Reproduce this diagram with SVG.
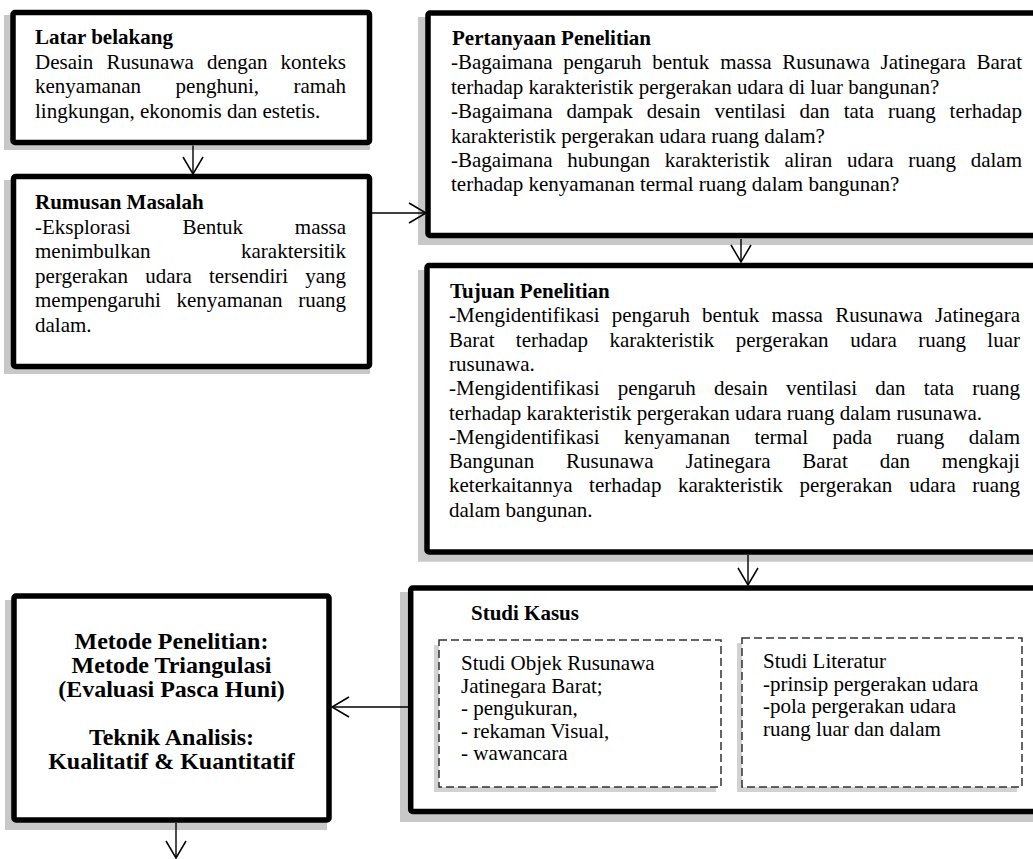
<svg xmlns="http://www.w3.org/2000/svg" width="1033" height="859" viewBox="0 0 1033 859">
<style>
.t{font-family:"Liberation Serif","Times New Roman",serif;font-size:21px;fill:#000}
.b{font-weight:bold}
.m{font-family:"Liberation Serif","Times New Roman",serif;font-size:24px;font-weight:bold;fill:#000;text-anchor:middle}
.box{fill:#fff;stroke:#000;stroke-width:5.5}
.sh{fill:#c8c8c8}
.dash{fill:#fff;stroke:#333;stroke-width:1.5;stroke-dasharray:8 4}
.shd{fill:#d2d2d2}
.con{stroke:#000;stroke-width:1.4;fill:none;marker-end:url(#arr)}
</style>
<defs>
<marker id="arr" viewBox="-1 -12 20 24" refX="17" refY="0" markerWidth="20" markerHeight="24" markerUnits="userSpaceOnUse" orient="auto">
<path d="M0,-10 L17,0 L0,10" fill="none" stroke="#000" stroke-width="1.5"/>
</marker>
</defs>

<g id="latar">
<rect class="sh" x="4" y="15" width="366" height="135"/>
<rect class="box" x="13" y="12.5" width="356.5" height="130" rx="2"/>
<text class="t b" x="35" y="44">Latar belakang</text>
<text class="t" y="68.5"><tspan x="35">Desain</tspan><tspan x="106.4">Rusunawa</tspan><tspan x="206.9">dengan</tspan><tspan x="280.6">konteks</tspan></text>
<text class="t" y="93"><tspan x="35">kenyamanan</tspan><tspan x="175.6">penghuni,</tspan><tspan x="293.5">ramah</tspan></text>
<text class="t" x="35" y="117.5">lingkungan, ekonomis dan estetis.</text>
</g>

<g id="rumusan">
<rect class="sh" x="4" y="180" width="366" height="194"/>
<rect class="box" x="13.5" y="176.5" width="356" height="190" rx="2"/>
<text class="t b" x="35" y="209">Rumusan Masalah</text>
<text class="t" y="233.5"><tspan x="35">-Eksplorasi</tspan><tspan x="182.4">Bentuk</tspan><tspan x="294.8">massa</tspan></text>
<text class="t" y="258"><tspan x="35">menimbulkan</tspan><tspan x="241">karaktersitik</tspan></text>
<text class="t" y="282.5"><tspan x="35">pergerakan</tspan><tspan x="145.3">udara</tspan><tspan x="208.9">tersendiri</tspan><tspan x="305.2">yang</tspan></text>
<text class="t" y="307"><tspan x="35">mempengaruhi</tspan><tspan x="176.5">kenyamanan</tspan><tspan x="298.2">ruang</tspan></text>
<text class="t" x="35" y="331.5">dalam.</text>
</g>

<g id="pertanyaan">
<rect class="sh" x="418" y="17" width="640" height="228"/>
<rect class="box" x="428" y="13" width="620" height="222.5" rx="2"/>
<text class="t b" x="452" y="45">Pertanyaan Penelitian</text>
<text class="t" y="69.4"><tspan x="451">-Bagaimana</tspan><tspan x="563.3">pengaruh</tspan><tspan x="652.2">bentuk</tspan><tspan x="720.2">massa</tspan><tspan x="782.3">Rusunawa</tspan><tspan x="880.6">Jatinegara</tspan><tspan x="976.5">Barat</tspan></text>
<text class="t" x="451" y="93.8">terhadap karakteristik pergerakan udara di luar bangunan?</text>
<text class="t" y="118.2"><tspan x="451">-Bagaimana</tspan><tspan x="566.4">dampak</tspan><tspan x="646.8">desain</tspan><tspan x="714.4">ventilasi</tspan><tspan x="799.5">dan</tspan><tspan x="843.7">tata</tspan><tspan x="887.9">ruang</tspan><tspan x="949.6">terhadap</tspan></text>
<text class="t" x="451" y="142.6">karakteristik pergerakan udara ruang dalam?</text>
<text class="t" y="167"><tspan x="451">-Bagaimana</tspan><tspan x="567.2">hubungan</tspan><tspan x="664.7">karakteristik</tspan><tspan x="784.4">aliran</tspan><tspan x="846.9">udara</tspan><tspan x="908.2">ruang</tspan><tspan x="970.7">dalam</tspan></text>
<text class="t" x="451" y="191.4">terhadap kenyamanan termal ruang dalam bangunan?</text>
</g>

<g id="tujuan">
<rect class="sh" x="418" y="270" width="640" height="291.7"/>
<rect class="box" x="427" y="265.5" width="620" height="286.5" rx="2"/>
<text class="t b" x="450" y="298">Tujuan Penelitian</text>
<text class="t" y="322.3"><tspan x="449">-Mengidentifikasi</tspan><tspan x="611.8">pengaruh</tspan><tspan x="702.1">bentuk</tspan><tspan x="771.6">massa</tspan><tspan x="835.2">Rusunawa</tspan><tspan x="934.9">Jatinegara</tspan></text>
<text class="t" y="346.6"><tspan x="449">Barat</tspan><tspan x="515.8">terhadap</tspan><tspan x="609.4">karakteristik</tspan><tspan x="735.7">pergerakan</tspan><tspan x="850.3">udara</tspan><tspan x="918.2">ruang</tspan><tspan x="987.3">luar</tspan></text>
<text class="t" x="449" y="370.9">rusunawa.</text>
<text class="t" y="395.2"><tspan x="449">-Mengidentifikasi</tspan><tspan x="617.7">pengaruh</tspan><tspan x="714">desain</tspan><tspan x="785.9">ventilasi</tspan><tspan x="875.3">dan</tspan><tspan x="923.8">tata</tspan><tspan x="972.2">ruang</tspan></text>
<text class="t" x="449" y="419.5">terhadap karakteristik pergerakan udara ruang dalam rusunawa.</text>
<text class="t" y="443.8"><tspan x="449">-Mengidentifikasi</tspan><tspan x="623.9">kenyamanan</tspan><tspan x="754.4">termal</tspan><tspan x="832.5">pada</tspan><tspan x="896.5">ruang</tspan><tspan x="968.7">dalam</tspan></text>
<text class="t" y="468.1"><tspan x="449">Bangunan</tspan><tspan x="566">Rusunawa</tspan><tspan x="685.4">Jatinegara</tspan><tspan x="802.3">Barat</tspan><tspan x="879.7">dan</tspan><tspan x="941.8">mengkaji</tspan></text>
<text class="t" y="492.4"><tspan x="449">keterkaitannya</tspan><tspan x="589.1">terhadap</tspan><tspan x="677.9">karakteristik</tspan><tspan x="799.4">pergerakan</tspan><tspan x="909.2">udara</tspan><tspan x="972.3">ruang</tspan></text>
<text class="t" x="449" y="516.7">dalam bangunan.</text>
</g>

<g id="studi-kasus">
<rect class="sh" x="400" y="592" width="650" height="230"/>
<rect class="box" x="410.7" y="588" width="640" height="223.5" rx="2"/>
<text class="t b" x="471" y="620">Studi Kasus</text>
<g id="studi-objek">
<rect class="shd" x="434" y="645" width="282" height="147"/>
<rect class="dash" x="439" y="640" width="282" height="147"/>
<text class="t" x="461" y="670">Studi Objek Rusunawa</text>
<text class="t" x="461" y="692.5">Jatinegara Barat;</text>
<text class="t" x="461" y="715">- pengukuran,</text>
<text class="t" x="461" y="737.5">- rekaman Visual,</text>
<text class="t" x="461" y="760">- wawancara</text>
</g>
<g id="studi-literatur">
<rect class="shd" x="737" y="643" width="280" height="149"/>
<rect class="dash" x="742" y="638" width="280" height="149"/>
<text class="t" x="763" y="668">Studi Literatur</text>
<text class="t" x="763" y="690.5">-prinsip pergerakan udara</text>
<text class="t" x="763" y="713">-pola pergerakan udara</text>
<text class="t" x="763" y="735.5">ruang luar dan dalam</text>
</g>
</g>

<g id="metode">
<rect class="sh" x="5" y="600" width="322" height="230"/>
<rect class="box" x="14" y="596" width="315" height="224" rx="2"/>
<text class="m" x="171.5" y="649">Metode Penelitian:</text>
<text class="m" x="171.5" y="673">Metode Triangulasi</text>
<text class="m" x="171.5" y="697">(Evaluasi Pasca Huni)</text>
<text class="m" x="171.5" y="745">Teknik Analisis:</text>
<text class="m" x="171.5" y="769">Kualitatif &amp; Kuantitatif</text>
</g>

<g id="connectors">
<line class="con" x1="193" y1="145.5" x2="193" y2="174"/>
<line class="con" x1="372" y1="213" x2="426" y2="213"/>
<line class="con" x1="741" y1="239" x2="741" y2="262"/>
<line class="con" x1="748" y1="555" x2="748" y2="585"/>
<line class="con" x1="408" y1="707" x2="332" y2="707"/>
<line class="con" x1="176" y1="823" x2="176" y2="858"/>
</g>
</svg>
